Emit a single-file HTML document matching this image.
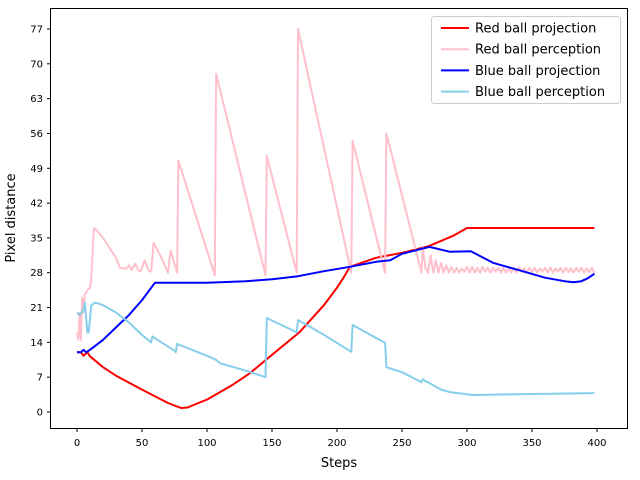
<!DOCTYPE html>
<html><head><meta charset="utf-8"><style>
html,body{margin:0;padding:0;background:#fff;}
svg{display:block;font-family:"DejaVu Sans","Liberation Sans",sans-serif;}
</style></head><body>
<svg id="chart" width="640" height="480" viewBox="0 0 640 480">
<rect x="0" y="0" width="640" height="480" fill="#fff"/>
<g id="plot"></g>
<rect x="50.5" y="8.5" width="577" height="420" fill="none" stroke="#000" stroke-width="1"/>
<g id="xticks"></g>
<g id="yticks"></g>
<text x="339" y="467" font-size="13" text-anchor="middle">Steps</text>
<text transform="translate(15,218) rotate(-90)" font-size="13" text-anchor="middle">Pixel distance</text>
<g id="legend"></g>
</svg>
<script>
const xTicks=[0,50,100,150,200,250,300,350,400];
const yTicks=[0,7,14,21,28,35,42,49,56,63,70,77];
const seriesNames=["Red ball projection","Red ball perception","Blue ball projection","Blue ball perception"];
const redProjX=[0,3,5,8,10,20,30,50,70,80,85,100,120,133,150,171,190,200,205,210,230,250,270,290,300,398];
const redProjY=[12,12,11.3,12,11.2,9,7.3,4.5,1.8,0.8,0.9,2.5,5.5,7.8,11.5,16,21.5,25,27,29.2,31,32,33.3,35.5,37,37];
const redPercX=[0,1,2,3,4,5,6,8,10,11,13,15,20,30,33,38,40,42,45,47,49,52,55,57,59,65,70,72,77,78,106,107,145,146,169,170,211,212,237,238,265,266,268,270,272,274,276,278,280,282,284,286,288,290,292,294,296,298,300,302,304,306,308,310,312,314,316,318,320,322,324,326,328,330,332,334,336,338,340,342,344,346,348,350,352,354,356,358,360,362,364,366,368,370,372,374,376,378,380,382,384,386,388,390,392,394,396,398];
const redPercY=[16,14.5,20,14.5,23,20,23.5,24.5,25,27,37,36.5,35,31,29,28.8,29.5,28.5,29.8,28.5,28.3,30.5,28.5,28.2,34,31,28,32.5,28,50.5,27.5,68,27.5,51.5,28,77,28,54.5,28,56,28,33,29,28,31.5,28,30.5,28,30,28,29.5,28,29.2,28,29,28,28.8,28.2,29.2,28,29.2,28,29,28,29.2,28.2,29,28,29,28.2,29,28,29,28,28.9,28.1,29,28,29.1,28.2,28.9,28,29,28.1,29,28,28.9,28.2,29,28,29.1,28,28.9,28.2,29,28,29,28.1,28.9,28,29,28.2,29,28,28.9,28.1,29,28];
const blueProjX=[0,3,5,7,10,20,30,40,50,60,100,130,150,170,190,210,230,241,250,271,287,303,320,340,360,375,382,388,393,398];
const blueProjY=[12,12,12.5,12,12.5,14.5,17,19.5,22.5,26,26,26.3,26.7,27.3,28.3,29.2,30.2,30.5,31.8,33.2,32.2,32.3,30,28.5,27,26.3,26.1,26.3,26.9,27.8];
const bluePercX=[0,2,5,6,8,9,11,14,20,30,40,50,57,58,75,76,77,100,107,110,130,145,146,169,170,190,211,212,237,238,250,265,266,268,270,280,287,305,320,398];
const bluePercY=[20,19.5,20.5,22,16,16,21.5,22,21.5,20,18,15.5,14,15.2,12.3,12,13.7,11.3,10.5,9.8,8.3,7,18.9,16,18.5,15.5,12.1,17.5,13.9,9,8,6,6.6,6.2,6,4.5,4,3.4,3.5,3.8];
const X=v=>77+1.3*v, Y=v=>412-4.974*v;
const ns="http://www.w3.org/2000/svg";
const plot=document.getElementById('plot');
function line(xs,ys,color,name){
  const p=document.createElementNS(ns,'polyline');
  p.setAttribute('points',xs.map((x,i)=>X(x).toFixed(1)+','+Y(ys[i]).toFixed(1)).join(' '));
  p.setAttribute('fill','none');p.setAttribute('stroke',color);p.setAttribute('stroke-width','2');p.setAttribute('stroke-linejoin','round');
  
  
  plot.appendChild(p);
}
const colors=["#ff0000","#ffc0cb","#0000ff","#87ceeb"];
line(redProjX,redProjY,colors[0],'red-ball-projection-line');
line(redPercX,redPercY,colors[1],'red-ball-perception-line');
line(blueProjX,blueProjY,colors[2],'blue-ball-projection-line');
line(bluePercX,bluePercY,colors[3],'blue-ball-perception-line');
const xg=document.getElementById('xticks');
xTicks.forEach(t=>{
  const l=document.createElementNS(ns,'line');
  l.setAttribute('x1',X(t));l.setAttribute('x2',X(t));l.setAttribute('y1',428.5);l.setAttribute('y2',432);l.setAttribute('stroke','#000');
  
  
  xg.appendChild(l);
  const tx=document.createElementNS(ns,'text');
  tx.setAttribute('x',X(t));tx.setAttribute('y',446);tx.setAttribute('font-size','10');tx.setAttribute('text-anchor','middle');
  tx.textContent=t;
  
  
  xg.appendChild(tx);
});
const yg=document.getElementById('yticks');
yTicks.forEach(t=>{
  const l=document.createElementNS(ns,'line');
  l.setAttribute('x1',47);l.setAttribute('x2',50.5);l.setAttribute('y1',Y(t));l.setAttribute('y2',Y(t));l.setAttribute('stroke','#000');
  
  
  yg.appendChild(l);
  const tx=document.createElementNS(ns,'text');
  tx.setAttribute('x',43);tx.setAttribute('y',Y(t)+3.5);tx.setAttribute('font-size','10');tx.setAttribute('text-anchor','end');
  tx.textContent=t;
  
  
  yg.appendChild(tx);
});
const lg=document.getElementById('legend');
const box=document.createElementNS(ns,'rect');
box.setAttribute('x',431.5);box.setAttribute('y',16.5);box.setAttribute('width',189);box.setAttribute('height',87);box.setAttribute('rx',3);
box.setAttribute('fill','#fff');box.setAttribute('fill-opacity','0.8');box.setAttribute('stroke','#ccc');


lg.appendChild(box);
seriesNames.forEach((n,i)=>{
  const y=28+i*21.2;
  const l=document.createElementNS(ns,'line');
  l.setAttribute('x1',441);l.setAttribute('x2',469);l.setAttribute('y1',y);l.setAttribute('y2',y);l.setAttribute('stroke',colors[i]);l.setAttribute('stroke-width','2');
  
  
  lg.appendChild(l);
  const tx=document.createElementNS(ns,'text');
  tx.setAttribute('x',475);tx.setAttribute('y',y+4.5);tx.setAttribute('font-size','13');
  tx.textContent=n;
  
  
  lg.appendChild(tx);
});
</script>
</body></html>
